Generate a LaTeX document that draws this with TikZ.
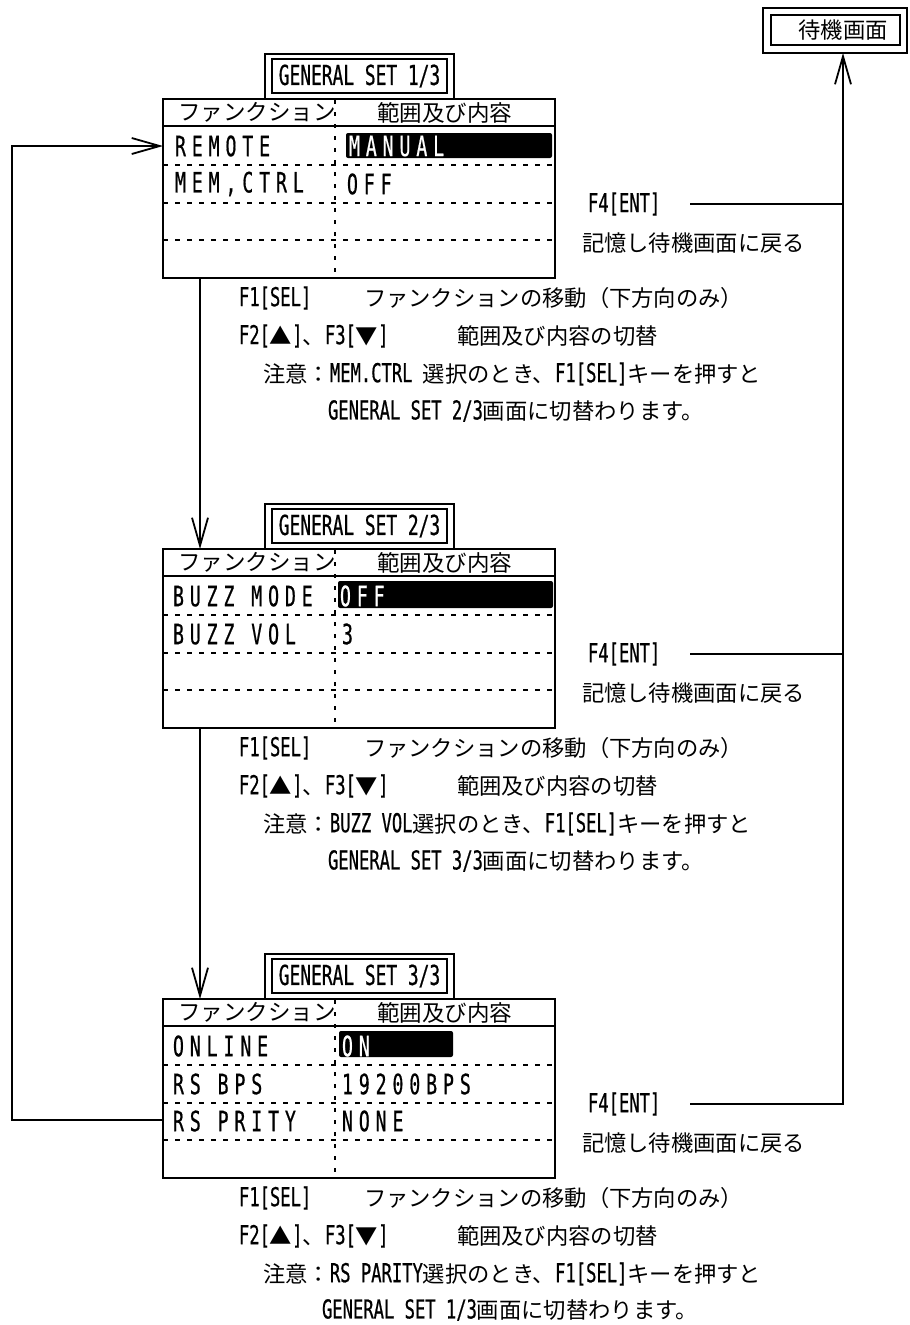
\documentclass[tikz,border=0pt]{standalone}
\usepackage{fontspec}
\setmainfont{Noto Sans CJK JP}
\newfontfamily\jpfam{Noto Sans CJK JP}
\newfontfamily\narfam[FakeStretch=0.66,FakeBold=0.6]{DejaVu Sans Mono}
\newfontfamily\ttlfam[FakeStretch=0.65,FakeBold=0.6]{DejaVu Sans Mono}
\newfontfamily\mnufam[FakeStretch=0.65,FakeBold=0.6,LetterSpace=21]{DejaVu Sans Mono}
\usetikzlibrary{arrows.meta}
\newcommand{\fjp}{\jpfam\fontsize{22.3}{26}\selectfont}
\newcommand{\fhd}{\jpfam\fontsize{22.5}{26}\selectfont}
\newcommand{\flt}{\narfam\fontsize{26}{28}\selectfont}
\newcommand{\fmn}{\mnufam\fontsize{28}{30}\selectfont}
\newcommand{\ftt}{\ttlfam\fontsize{27.5}{30}\selectfont}
\tikzset{
  txt/.style={inner sep=0pt, outer sep=0pt, anchor=west, font=\fjp},
  hdr/.style={inner sep=0pt, outer sep=0pt, anchor=west, font=\fhd},
  mnu/.style={inner sep=0pt, outer sep=0pt, anchor=west, font=\fmn},
  mnuw/.style={mnu, text=white},
  tabtxt/.style={inner sep=0pt, outer sep=0pt, font=\ftt},
  mainbox/.style={draw, line width=2pt, minimum width=392pt, minimum height=179pt, inner sep=0pt, outer sep=0pt},
  boxline/.style={line width=2pt},
  dashline/.style={line width=1.6pt, dash pattern=on 5pt off 7pt},
  divline/.style={line width=2.2pt, dash pattern=on 4pt off 8pt},
  hl/.style={fill=black, rounded corners=2pt},
  conn/.style={line width=2pt},
  arr/.style={line width=2pt, -{Straight Barb[length=28pt,width=16pt,line width=1.8pt]}},
  wbox/.style={draw, line width=2pt, inner sep=0pt, outer sep=0pt}
}
\begin{document}
\begin{tikzpicture}[x=1pt, y=-1pt]
\useasboundingbox (0,0) rectangle (910,1325);
\coordinate (vx) at (843,0);
% standby screen box
\node[wbox, minimum width=144pt, minimum height=45pt] (wbox) at (835,30.5) {};
\node[wbox, minimum width=129pt, minimum height=30pt] (wboxin) at (835.5,30) {};
\node[inner sep=0pt, font=\fjp] (wtxt) at (843,30) {待機画面};

% ---------- box 1 ----------
\begin{scope}
\node[mainbox] (b1) at (359,188.5) {};
\draw[boxline] (265,99) -- (265,54) -- (454,54) -- (454,99);
\draw[boxline] (272,59) rectangle (447,93);
\node[tabtxt] (t1) at (359.5,76) {GENERAL SET 1/3};
\draw[boxline] (163,126) -- (555,126);
\draw[dashline] (163,165) -- (555,165);
\draw[dashline] (163,203) -- (555,203);
\draw[dashline] (163,240) -- (555,240);
\draw[divline] (335,100) -- (335,277);
\node[hdr] (h1a) at (178,112.5) {ファンクション};
\node[hdr] (h1b) at (377,112.5) {範囲及び内容};
\fill[hl] (346,133) rectangle (552,158);
\node[mnu] (f1a) at (175,146) {REMOTE};
\node[mnuw] (v1a) at (349,146) {MANUAL};
\node[mnu] (f1b) at (175,184) {MEM,CTRL};
\node[mnu] (v1b) at (347,184) {OFF};
\node[txt, font=\flt] (k1a) at (239,298) {F1[SEL]};
\node[txt] (d1a) at (364,298) {ファンクションの移動（下方向のみ）};
\node[txt] (k1b) at (239,336) {{\flt F2[}▲{\flt ]}、{\flt F3[}▼{\flt ]}};
\node[txt] (d1b) at (457,336) {範囲及び内容の切替};
\node[txt] (n1a) at (263,374) {注意：{\flt MEM.CTRL }選択のとき、{\flt F1[SEL]}キーを押すと};
\node[txt] (n1b) at (328,411) {{\flt GENERAL SET 2/3}画面に切替わります。};
\node[txt, font=\flt] (e1a) at (588,204) {F4[ENT]};
\node[txt] (e1b) at (582,243) {記憶し待機画面に戻る};
\end{scope}

% ---------- box 2 ----------
\begin{scope}[yshift=-450pt]
\node[mainbox] (b2) at (359,188.5) {};
\draw[boxline] (265,99) -- (265,54) -- (454,54) -- (454,99);
\draw[boxline] (272,59) rectangle (447,93);
\node[tabtxt] (t2) at (359.5,76) {GENERAL SET 2/3};
\draw[boxline] (163,126) -- (555,126);
\draw[dashline] (163,165) -- (555,165);
\draw[dashline] (163,203) -- (555,203);
\draw[dashline] (163,240) -- (555,240);
\draw[divline] (335,100) -- (335,277);
\node[hdr] (h2a) at (178,112.5) {ファンクション};
\node[hdr] (h2b) at (377,112.5) {範囲及び内容};
\fill[hl] (338,131) rectangle (553,158);
\node[mnu] (f2a) at (173,146) {BUZZ MODE};
\node[mnuw] (v2a) at (340,146) {OFF};
\node[mnu] (f2b) at (173,184) {BUZZ VOL};
\node[mnu] (v2b) at (342,184) {3};
\node[txt, font=\flt] (k2a) at (239,298) {F1[SEL]};
\node[txt] (d2a) at (364,298) {ファンクションの移動（下方向のみ）};
\node[txt] (k2b) at (239,336) {{\flt F2[}▲{\flt ]}、{\flt F3[}▼{\flt ]}};
\node[txt] (d2b) at (457,336) {範囲及び内容の切替};
\node[txt] (n2a) at (263,374) {注意：{\flt BUZZ VOL}選択のとき、{\flt F1[SEL]}キーを押すと};
\node[txt] (n2b) at (328,411) {{\flt GENERAL SET 3/3}画面に切替わります。};
\node[txt, font=\flt] (e2a) at (588,204) {F4[ENT]};
\node[txt] (e2b) at (582,243) {記憶し待機画面に戻る};
\end{scope}

% ---------- box 3 ----------
\begin{scope}[yshift=-900pt]
\node[mainbox] (b3) at (359,188.5) {};
\draw[boxline] (265,99) -- (265,54) -- (454,54) -- (454,99);
\draw[boxline] (272,59) rectangle (447,93);
\node[tabtxt] (t3) at (359.5,76) {GENERAL SET 3/3};
\draw[boxline] (163,126) -- (555,126);
\draw[dashline] (163,165) -- (555,165);
\draw[dashline] (163,203) -- (555,203);
\draw[dashline] (163,240) -- (555,240);
\draw[divline] (335,100) -- (335,277);
\node[hdr] (h3a) at (178,112.5) {ファンクション};
\node[hdr] (h3b) at (377,112.5) {範囲及び内容};
\fill[hl] (339,131) rectangle (453,157);
\node[mnu] (f3a) at (173,146) {ONLINE};
\node[mnuw] (v3a) at (342,146) {ON};
\node[mnu] (f3b) at (173,184) {RS BPS};
\node[mnu] (v3b) at (342,184) {19200BPS};
\node[mnu] (f3c) at (173,221) {RS PRITY};
\node[mnu] (v3c) at (342,221) {NONE};
\node[txt, font=\flt] (k3a) at (239,298) {F1[SEL]};
\node[txt] (d3a) at (364,298) {ファンクションの移動（下方向のみ）};
\node[txt] (k3b) at (239,336) {{\flt F2[}▲{\flt ]}、{\flt F3[}▼{\flt ]}};
\node[txt] (d3b) at (457,336) {範囲及び内容の切替};
\node[txt] (n3a) at (263,374) {注意：{\flt RS PARITY}選択のとき、{\flt F1[SEL]}キーを押すと};
\node[txt] (n3b) at (322,410) {{\flt GENERAL SET 1/3}画面に切替わります。};
\node[txt, font=\flt] (e3a) at (588,204) {F4[ENT]};
\node[txt] (e3b) at (582,243) {記憶し待機画面に戻る};
\end{scope}

% ---------- connectors ----------
\coordinate (lb) at (12,1120);
\coordinate (lt) at (12,146);
\draw[arr] (b3.west |- lb) -- (lb) -- (lt) -- (b1.west |- lt);
\draw[arr] ([xshift=37pt]b1.south west) -- ([xshift=37pt]b2.north west);
\draw[arr] ([xshift=37pt]b2.south west) -- ([xshift=37pt]b3.north west);
\draw[conn] ([xshift=30pt]e1a.east) -- (e1a.east -| vx);
\draw[conn] ([xshift=30pt]e2a.east) -- (e2a.east -| vx);
\draw[arr] ([xshift=30pt]e3a.east) -- (e3a.east -| vx) -- (vx |- wbox.south);
\end{tikzpicture}
\end{document}
